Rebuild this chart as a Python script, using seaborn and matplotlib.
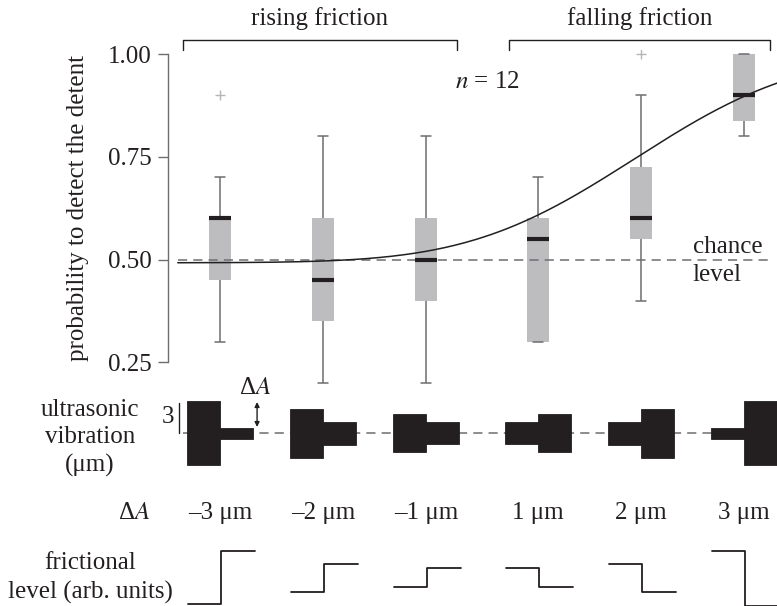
import math
import numpy as np
import pandas as pd
import matplotlib
matplotlib.use("Agg")
import matplotlib.pyplot as plt
import matplotlib.transforms as mtransforms
import seaborn as sns

# conditions (amplitude step, um)
delta_labels = ["\u20133 \u03bcm", "\u20132 \u03bcm", "\u20131 \u03bcm", "1 \u03bcm", "2 \u03bcm", "3 \u03bcm"]

# detection probability per subject (n = 12) for each condition
p_m3 = [0.3, 0.3, 0.3, 0.5, 0.5, 0.6, 0.6, 0.6, 0.6, 0.6, 0.7, 0.9]
p_m2 = [0.2, 0.2, 0.2, 0.4, 0.4, 0.4, 0.5, 0.5, 0.6, 0.6, 0.7, 0.8]
p_m1 = [0.2, 0.3, 0.4, 0.4, 0.5, 0.5, 0.5, 0.5, 0.6, 0.6, 0.7, 0.8]
p_p1 = [0.3, 0.3, 0.3, 0.3, 0.4, 0.5, 0.6, 0.6, 0.6, 0.6, 0.7, 0.7]
p_p2 = [0.4, 0.4, 0.4, 0.6, 0.6, 0.6, 0.6, 0.7, 0.7, 0.8, 0.9, 1.0]
p_p3 = [0.8, 0.8, 0.8, 0.85, 0.9, 0.9, 0.9, 1.0, 1.0, 1.0, 1.0, 1.0]

# psychometric fit (cumulative gaussian, in plot position units)
fit_base = 0.492
fit_mu = 4.03
fit_sigma = 1.27

# vibration amplitude before / after the step (um)
amp_before = [3.2, 2.45, 1.9, 1.1, 1.15, 0.55]
amp_after = [0.55, 1.15, 1.1, 1.9, 2.45, 3.2]

# frictional level before / after the step (arb. units)
fric_before = [-2.6, -1.4, -0.9, 1.0, 1.4, 2.7]
fric_after = [2.7, 1.4, 1.0, -0.9, -1.4, -2.8]

xpos = [0, 1, 2, 3.087, 4.087, 5.087]  # small gap between rising and falling

W, H = 777, 606
ink = "#231f20"
grey = "#6d6e71"
fs = 18

sns.set_style("white")
plt.rcParams["font.family"] = ["Liberation Serif", "DejaVu Serif"]
plt.rcParams["mathtext.fontset"] = "stix"
plt.rcParams["font.size"] = fs
plt.rcParams["text.color"] = ink

fig = plt.figure(figsize=(W / 100, H / 100), dpi=100)

def fax(left, top, right, bottom):
    return fig.add_axes([left / W, 1 - bottom / H, (right - left) / W, (bottom - top) / H])

def ppx(x, y):
    return x / W, 1 - y / H

xlim = ((168 - 220) / 103, (777 - 220) / 103)

# ---------------- box plot ----------------
ax = fax(168, 50, 777, 388)
rows = []
for pos, vals in zip(xpos, [p_m3, p_m2, p_m1, p_p1, p_p2, p_p3]):
    for v in vals:
        rows.append({"pos": pos, "prob": v})
df = pd.DataFrame(rows)

sns.boxplot(data=df, x="pos", y="prob", native_scale=True, width=0.21,
            color="#bcbdc0", linecolor=grey, linewidth=1.1, whis=1.5,
            fliersize=7,
            flierprops=dict(marker="+", markeredgecolor="#b5b6b8", markeredgewidth=1.0),
            medianprops=dict(color=ink, linewidth=3),
            boxprops=dict(edgecolor="none"),
            ax=ax)

ax.set_xlim(*xlim)
ax.set_ylim(0.5 - (388 - 259.5) / 410.7, 0.5 + (259.5 - 50) / 410.7)
for s in ["top", "right", "bottom"]:
    ax.spines[s].set_visible(False)
ax.spines["left"].set_bounds(0.25, 1.0)
ax.spines["left"].set_color(grey)
ax.spines["left"].set_linewidth(1.0)
ax.set_yticks([0.25, 0.5, 0.75, 1.0])
ax.set_yticklabels(["0.25", "0.50", "0.75", "1.00"])
ax.tick_params(axis="y", left=True, length=7.5, width=1.0, color=grey, pad=4,
               labelsize=fs, labelcolor=ink)
ax.set_xticks([])
ax.set_xlabel("")
ax.set_ylabel("")

# chance level and fitted curve
ax.plot([-0.41, 5.37], [0.5, 0.5], color=grey, lw=1.1, ls=(0, (6, 4)))
xs = np.linspace(-0.41, xlim[1] + 0.1, 300)
cdf = np.array([0.5 * (1 + math.erf((x - fit_mu) / (fit_sigma * math.sqrt(2)))) for x in xs])
ax.plot(xs, fit_base + (1 - fit_base) * cdf, color=ink, lw=1.1)

ax.text(4.59, 0.530, "chance", ha="left", va="center")
ax.text(4.59, 0.462, "level", ha="left", va="center")
ax.text(2.60, 0.932, "$n$ = 12", ha="center", va="center")

# brackets
yb, yt = 0.5 + (259.5 - 40) / 410.7, 0.5 + (259.5 - 50) / 410.7
for (x0, x1), lab in [((xpos[0] - 0.36, xpos[2] + 0.30), "rising friction"),
                      ((xpos[3] - 0.28, xpos[5] + 0.25), "falling friction")]:
    ax.plot([x0, x0, x1, x1], [yt, yb, yb, yt], color=ink, lw=1.0, clip_on=False)
    ax.text((x0 + x1) / 2, 0.5 + (259.5 - 19) / 410.7, lab, ha="center", va="center")

fig.text(*ppx(78, 208), "probability to detect the detent", rotation=90, ha="center", va="center")

# ---------------- ultrasonic vibration ----------------
axv = fax(168, 392, 777, 478)
axv.set_xlim(*xlim)
axv.set_ylim(-4.5, 4.1)
axv.axis("off")
w = 0.32
xp = np.array(xpos)
axv.plot([-0.36, xlim[1]], [0, 0], color=grey, lw=1.1, ls=(0, (6, 4)), zorder=1)
axv.bar(xp - w / 2, 2 * np.array(amp_before), bottom=-np.array(amp_before), width=w,
        color=ink, edgecolor=ink, linewidth=0.6, zorder=2)
axv.bar(xp + w / 2, 2 * np.array(amp_after), bottom=-np.array(amp_after), width=w,
        color=ink, edgecolor=ink, linewidth=0.6, zorder=2)
axv.plot([-0.398, -0.398], [0, 3], color=ink, lw=1.0)
axv.text(-0.445, 1.6, "3", ha="right", va="center")
axv.annotate("", xy=(xpos[0] + 0.36, amp_after[0] + 0.05), xytext=(xpos[0] + 0.36, amp_before[0] - 0.1),
             arrowprops=dict(arrowstyle="<|-|>", color=ink, lw=1.0, mutation_scale=7, shrinkA=0, shrinkB=0))
fig.text(*ppx(255, 388), "\u0394$A$", ha="center", va="center")
fig.text(*ppx(90, 438), "ultrasonic\nvibration\n(\u03bcm)", ha="center", va="center", linespacing=1.3)

# delta A row
trans = mtransforms.blended_transform_factory(axv.transData, fig.transFigure)
for x, lab in zip(xpos, delta_labels):
    fig.text(x, 1 - 513 / H, lab, transform=trans, ha="center", va="center")
fig.text(*ppx(134, 513), "\u0394$A$", ha="center", va="center")

# ---------------- frictional level ----------------
axf = fax(168, 540, 777, 606)
axf.set_xlim(*xlim)
axf.set_ylim(-2.8, 3.8)
axf.axis("off")
for x, b, a in zip(xpos, fric_before, fric_after):
    axf.plot([x - 0.31, x + 0.01, x + 0.01, x + 0.34], [b, b, a, a], color=ink, lw=1.3, clip_on=False)
fig.text(*ppx(90, 578), "frictional\nlevel (arb. units)", ha="center", va="center", linespacing=1.35)

fig.savefig("out.png", dpi=100)
